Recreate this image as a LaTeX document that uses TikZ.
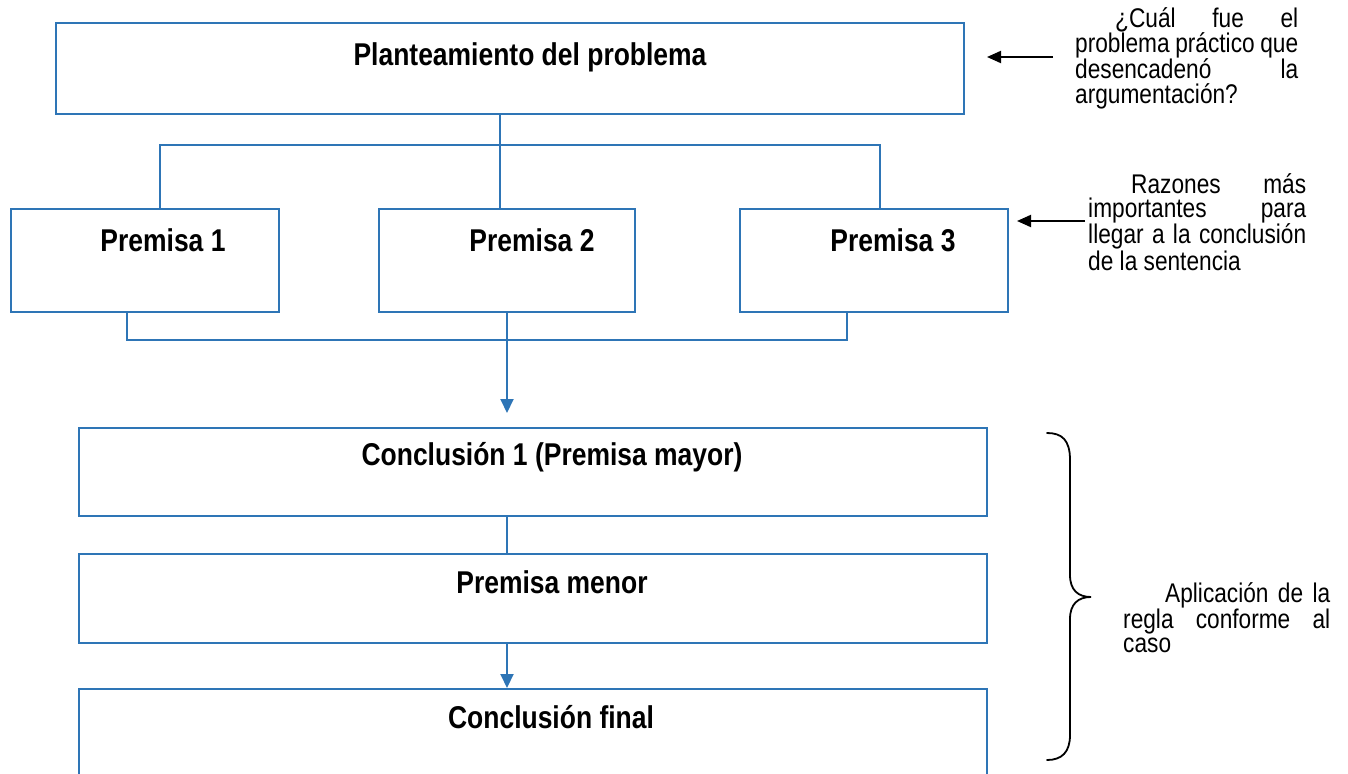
\documentclass[tikz,border=0pt]{standalone}
\usepackage{fontspec}
\setmainfont{Liberation Sans}
\newfontfamily\narrowfont[FakeStretch=0.84]{Liberation Sans}
\usetikzlibrary{arrows.meta}
\definecolor{boxblue}{RGB}{46,117,182}
\newcommand{\jl}[1]{\hbox to \hsize{#1}}
\begin{document}
\begin{tikzpicture}[x=1pt,y=-1pt,
  box/.style={draw=boxblue, line width=2pt, anchor=north west, inner sep=0pt},
  lbl/.style={anchor=base, inner sep=0pt, font=\narrowfont\bfseries\fontsize{31.5}{36}\selectfont},
  note/.style={anchor=base west, inner sep=0pt, font=\narrowfont\fontsize{27}{24}\selectfont},
  link/.style={draw=boxblue, line width=2pt},
  blink/.style={link, -{Triangle[width=13pt,length=14pt]}},
  karrow/.style={draw=black, line width=2pt, -{Triangle[width=12pt,length=14pt]}},
  brace/.style={draw=black, line width=1.8pt, line cap=round}]
\useasboundingbox (0,0) rectangle (1348,773);
% boxes
\node[box, minimum width=908pt, minimum height=91pt] (top) at (55,22) {};
\node[box, minimum width=268pt, minimum height=103pt] (p1) at (10,208) {};
\node[box, minimum width=256pt, minimum height=103pt] (p2) at (378,208) {};
\node[box, minimum width=268pt, minimum height=103pt] (p3) at (739,208) {};
\node[box, minimum width=908pt, minimum height=88pt] (c1) at (78,427) {};
\node[box, minimum width=908pt, minimum height=89pt] (pm) at (78,553) {};
\node[box, minimum width=908pt, minimum height=110pt] (cf) at (78,688) {};
% labels
\node[lbl] (topT) at (530,66) {Planteamiento del problema};
\node[lbl] (p1T) at (163,251) {Premisa 1};
\node[lbl] (p2T) at (532,251) {Premisa 2};
\node[lbl] (p3T) at (893,251) {Premisa 3};
\node[lbl] (c1T) at (552,465) {Conclusión 1 (Premisa mayor)};
\node[lbl] (pmT) at (552,593) {Premisa menor};
\node[lbl] (cfT) at (551,728) {Conclusión final};
% upper bus
\coordinate (busC) at (500,145);
\coordinate (busL) at (160,145);
\coordinate (busR) at (880,145);
\draw[link] (top.south -| busC) -- (busC);
\draw[link] (p1.north -| busL) -- (busL) -- (busR) -- (p3.north -| busR);
\draw[link] (busC) -- (p2.north -| busC);
% lower bus
\coordinate (lbL) at (127,340);
\coordinate (lbR) at (847,340);
\coordinate (lbC) at (507,340);
\coordinate (arrTip) at (507,413);
\draw[link] (p1.south -| lbL) -- (lbL) -- (lbR) -- (p3.south -| lbR);
\draw[blink] (p2.south -| lbC) -- (arrTip);
\draw[link] (c1.south -| lbC) -- (pm.north -| lbC);
\draw[blink] (pm.south -| lbC) -- (cf.north -| lbC);
% side notes
\node[note] (n1) at (1075,28) {\parbox[t]{223pt}{\baselineskip=24.5pt\parindent=0pt
\jl{\hspace*{40pt}¿Cuál\hfill fue\hfill el}
\jl{problema\hfill práctico\hfill que}
\jl{desencadenó\hfill la}
\jl{argumentación?\hfill}}};
\node[note] (n2) at (1088,193) {\parbox[t]{218pt}{\baselineskip=24.5pt\parindent=0pt
\jl{\hspace*{43pt}Razones\hfill más}
\jl{importantes\hfill para}
\jl{llegar\hfill a\hfill la\hfill conclusión}
\jl{de la sentencia\hfill}}};
\node[note] (n3) at (1123,602) {\parbox[t]{207pt}{\baselineskip=24.5pt\parindent=0pt
\jl{\hspace*{42pt}Aplicación\hfill de\hfill la}
\jl{regla\hfill conforme\hfill al}
\jl{caso\hfill}}};
\coordinate (a1s) at (1053,57);
\coordinate (a2s) at (1085,221);
\draw[karrow] (a1s) -- ([xshift=22pt]top.east |- a1s);
\draw[karrow] (a2s) -- ([xshift=8pt]p3.east |- a2s);
% brace
\draw[brace] (1047,433) .. controls (1062,433) and (1070,440) .. (1070,460) -- (1070,575)
  .. controls (1070,590) and (1078,597) .. (1091,597)
  .. controls (1078,597) and (1070,604) .. (1070,619) -- (1070,735)
  .. controls (1070,752) and (1062,760) .. (1047,760);
\end{tikzpicture}
\end{document}
